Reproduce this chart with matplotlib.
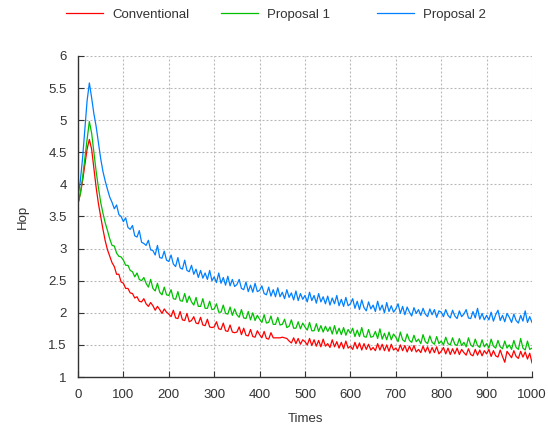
import numpy as np
import matplotlib
matplotlib.use('Agg')
import matplotlib.pyplot as plt

plt.rcParams['font.family'] = ['Liberation Sans', 'DejaVu Sans']

# sampled every 5 time steps, 0..1000
times = np.arange(0, 1001, 5)

proposal2 = [
    3.80, 4.05, 4.40, 4.85, 5.30, 5.58, 5.35, 5.10, 4.90, 4.65,
    4.40, 4.20, 4.05, 3.92, 3.80, 3.72, 3.62, 3.68, 3.53, 3.50,
    3.42, 3.48, 3.33, 3.30, 3.36, 3.20, 3.18, 3.28, 3.10, 3.08,
    3.05, 3.13, 2.98, 2.97, 2.90, 3.05, 2.86, 2.85, 2.96, 2.82,
    2.80, 2.90, 2.76, 2.72, 2.86, 2.70, 2.68, 2.82, 2.66, 2.64,
    2.74, 2.60, 2.68, 2.55, 2.66, 2.54, 2.62, 2.52, 2.66, 2.50,
    2.56, 2.47, 2.62, 2.46, 2.55, 2.43, 2.57, 2.42, 2.52, 2.41,
    2.44, 2.52, 2.38, 2.36, 2.48, 2.33, 2.43, 2.32, 2.46, 2.33,
    2.35, 2.42, 2.30, 2.28, 2.40, 2.26, 2.36, 2.25, 2.39, 2.25,
    2.32, 2.22, 2.36, 2.24, 2.31, 2.20, 2.34, 2.19, 2.30, 2.21,
    2.27, 2.17, 2.32, 2.19, 2.27, 2.15, 2.30, 2.17, 2.25, 2.14,
    2.26, 2.12, 2.23, 2.14, 2.27, 2.11, 2.21, 2.10, 2.24, 2.11,
    2.14, 2.22, 2.07, 2.18, 2.05, 2.20, 2.08, 2.03, 2.17, 2.06,
    2.12, 2.02, 2.18, 2.04, 2.12, 2.00, 2.16, 2.02, 2.11, 2.01,
    2.06, 2.14, 1.99, 2.10, 1.97, 2.09, 2.01, 1.95, 2.08, 1.99,
    2.05, 1.96, 2.07, 1.98, 1.94, 2.06, 1.97, 2.05, 1.93, 2.03,
    2.01, 1.94, 2.05, 1.96, 1.92, 2.04, 1.95, 1.91, 2.03, 1.94,
    1.98, 2.05, 1.92, 1.91, 2.02, 1.92, 2.07, 1.90, 1.99, 1.89,
    1.96, 1.89, 2.01, 1.87, 1.97, 2.04, 1.88, 1.96, 1.86, 1.99,
    1.93, 1.85, 1.98, 1.88, 1.84, 1.96, 1.87, 2.03, 1.85, 1.94,
    1.85,
]

proposal1 = [
    3.70, 3.85, 4.10, 4.40, 4.70, 4.98, 4.80, 4.50, 4.20, 3.95,
    3.72, 3.55, 3.40, 3.28, 3.15, 3.05, 3.04, 2.93, 2.88, 2.87,
    2.82, 2.74, 2.74, 2.66, 2.64, 2.56, 2.62, 2.52, 2.50, 2.55,
    2.46, 2.40, 2.52, 2.38, 2.34, 2.46, 2.32, 2.28, 2.40, 2.28,
    2.27, 2.36, 2.22, 2.21, 2.33, 2.19, 2.18, 2.30, 2.16, 2.26,
    2.17, 2.12, 2.24, 2.10, 2.10, 2.22, 2.07, 2.07, 2.18, 2.05,
    2.06, 2.14, 2.01, 2.01, 2.12, 1.99, 1.98, 2.09, 1.96, 2.06,
    1.97, 1.93, 2.05, 1.92, 1.91, 2.02, 1.89, 2.00, 1.88, 1.96,
    1.90, 1.85, 1.97, 1.84, 1.85, 1.95, 1.82, 1.82, 1.93, 1.81,
    1.82, 1.90, 1.77, 1.79, 1.89, 1.76, 1.76, 1.86, 1.75, 1.84,
    1.78, 1.73, 1.85, 1.72, 1.72, 1.83, 1.71, 1.80, 1.70, 1.79,
    1.71, 1.78, 1.67, 1.80, 1.67, 1.76, 1.66, 1.77, 1.65, 1.74,
    1.68, 1.76, 1.63, 1.73, 1.63, 1.77, 1.63, 1.62, 1.74, 1.62,
    1.63, 1.71, 1.60, 1.75, 1.59, 1.68, 1.58, 1.70, 1.58, 1.67,
    1.62, 1.55, 1.70, 1.58, 1.55, 1.67, 1.57, 1.54, 1.65, 1.55,
    1.59, 1.52, 1.66, 1.55, 1.52, 1.64, 1.54, 1.51, 1.63, 1.52,
    1.56, 1.50, 1.62, 1.52, 1.50, 1.61, 1.51, 1.49, 1.60, 1.49,
    1.54, 1.47, 1.61, 1.50, 1.47, 1.59, 1.49, 1.46, 1.58, 1.47,
    1.52, 1.45, 1.59, 1.48, 1.45, 1.57, 1.47, 1.44, 1.56, 1.45,
    1.50, 1.43, 1.57, 1.46, 1.43, 1.60, 1.45, 1.42, 1.56, 1.43,
    1.45,
]

conventional = [
    3.70, 3.85, 4.05, 4.30, 4.55, 4.70, 4.55, 4.25, 3.95, 3.70,
    3.50, 3.30, 3.12, 2.98, 2.88, 2.78, 2.72, 2.60, 2.60, 2.48,
    2.46, 2.38, 2.38, 2.31, 2.30, 2.23, 2.25, 2.18, 2.17, 2.22,
    2.14, 2.10, 2.16, 2.11, 2.04, 2.10, 2.05, 1.99, 2.06, 2.01,
    1.98, 1.94, 2.04, 1.92, 1.91, 2.02, 1.89, 1.88, 1.99, 1.86,
    1.88, 1.94, 1.84, 1.83, 1.93, 1.81, 1.80, 1.90, 1.78, 1.77,
    1.78, 1.86, 1.75, 1.74, 1.84, 1.72, 1.71, 1.81, 1.70, 1.69,
    1.70, 1.78, 1.66, 1.76, 1.65, 1.64, 1.74, 1.63, 1.62, 1.72,
    1.66, 1.61, 1.71, 1.60, 1.59, 1.69, 1.61, 1.61, 1.61, 1.61,
    1.62, 1.61, 1.60, 1.56, 1.53, 1.61, 1.52, 1.60, 1.51, 1.58,
    1.55, 1.50, 1.60, 1.49, 1.58, 1.48, 1.57, 1.47, 1.59, 1.48,
    1.52, 1.46, 1.58, 1.47, 1.55, 1.45, 1.54, 1.44, 1.56, 1.45,
    1.48, 1.43, 1.54, 1.44, 1.53, 1.42, 1.52, 1.43, 1.51, 1.42,
    1.46, 1.41, 1.52, 1.42, 1.51, 1.41, 1.50, 1.40, 1.51, 1.42,
    1.45, 1.40, 1.50, 1.41, 1.49, 1.39, 1.48, 1.40, 1.49, 1.39,
    1.43, 1.38, 1.48, 1.39, 1.47, 1.37, 1.46, 1.38, 1.47, 1.36,
    1.40, 1.46, 1.36, 1.45, 1.35, 1.44, 1.36, 1.45, 1.35, 1.43,
    1.38, 1.34, 1.44, 1.35, 1.33, 1.43, 1.34, 1.42, 1.33, 1.41,
    1.36, 1.43, 1.32, 1.41, 1.33, 1.31, 1.42, 1.32, 1.23, 1.40,
    1.35, 1.30, 1.41, 1.32, 1.29, 1.40, 1.31, 1.39, 1.28, 1.37,
    1.22,
]

series = [
    ('Conventional', conventional, '#ff0000'),
    ('Proposal 1', proposal1, '#00c000'),
    ('Proposal 2', proposal2, '#0080ff'),
]

fig = plt.figure(figsize=(5.48, 4.28), dpi=100)
ax = fig.add_axes([78/548, 1 - 377/428, (532-78)/548, (377-56)/428])

lines = []
for name, vals, col in series:
    ln, = ax.plot(times, vals, color=col, lw=0.9, label=name)
    lines.append(ln)

ax.set_xlim(0, 1000)
ax.set_ylim(1, 6)
ax.set_xticks(np.arange(0, 1001, 100))
ax.set_yticks(np.arange(1, 6.01, 0.5))
ax.set_yticklabels(['1', '1.5', '2', '2.5', '3', '3.5', '4', '4.5', '5', '5.5', '6'])
ax.grid(True, color='#b8b8b8', linestyle=(0, (1.8, 1.8)), linewidth=0.8)
ax.tick_params(direction='in', length=4, width=0.8, labelsize=9.5, colors='#333333',
               pad=8)
ax.tick_params(axis='x', pad=9)
for s in ['top', 'right']:
    ax.spines[s].set_visible(False)
for s in ['left', 'bottom']:
    ax.spines[s].set_color('#333333')
    ax.spines[s].set_linewidth(1.0)

ax.set_xlabel('Times', fontsize=9.5, color='#333333', labelpad=8)
ax.set_ylabel('Hop', fontsize=9.5, color='#333333', labelpad=14)

# legend entries spaced like the original (one per slot)
for ln, x0 in zip(lines, [66, 221, 377]):
    fig.legend(handles=[ln], loc='center left', bbox_to_anchor=(x0/548, 1 - 15/428),
               frameon=False, fontsize=9.5, handlelength=2.8, handletextpad=0.7,
               borderpad=0, borderaxespad=0, labelcolor='#333333')

fig.savefig('out.png', dpi=100)
